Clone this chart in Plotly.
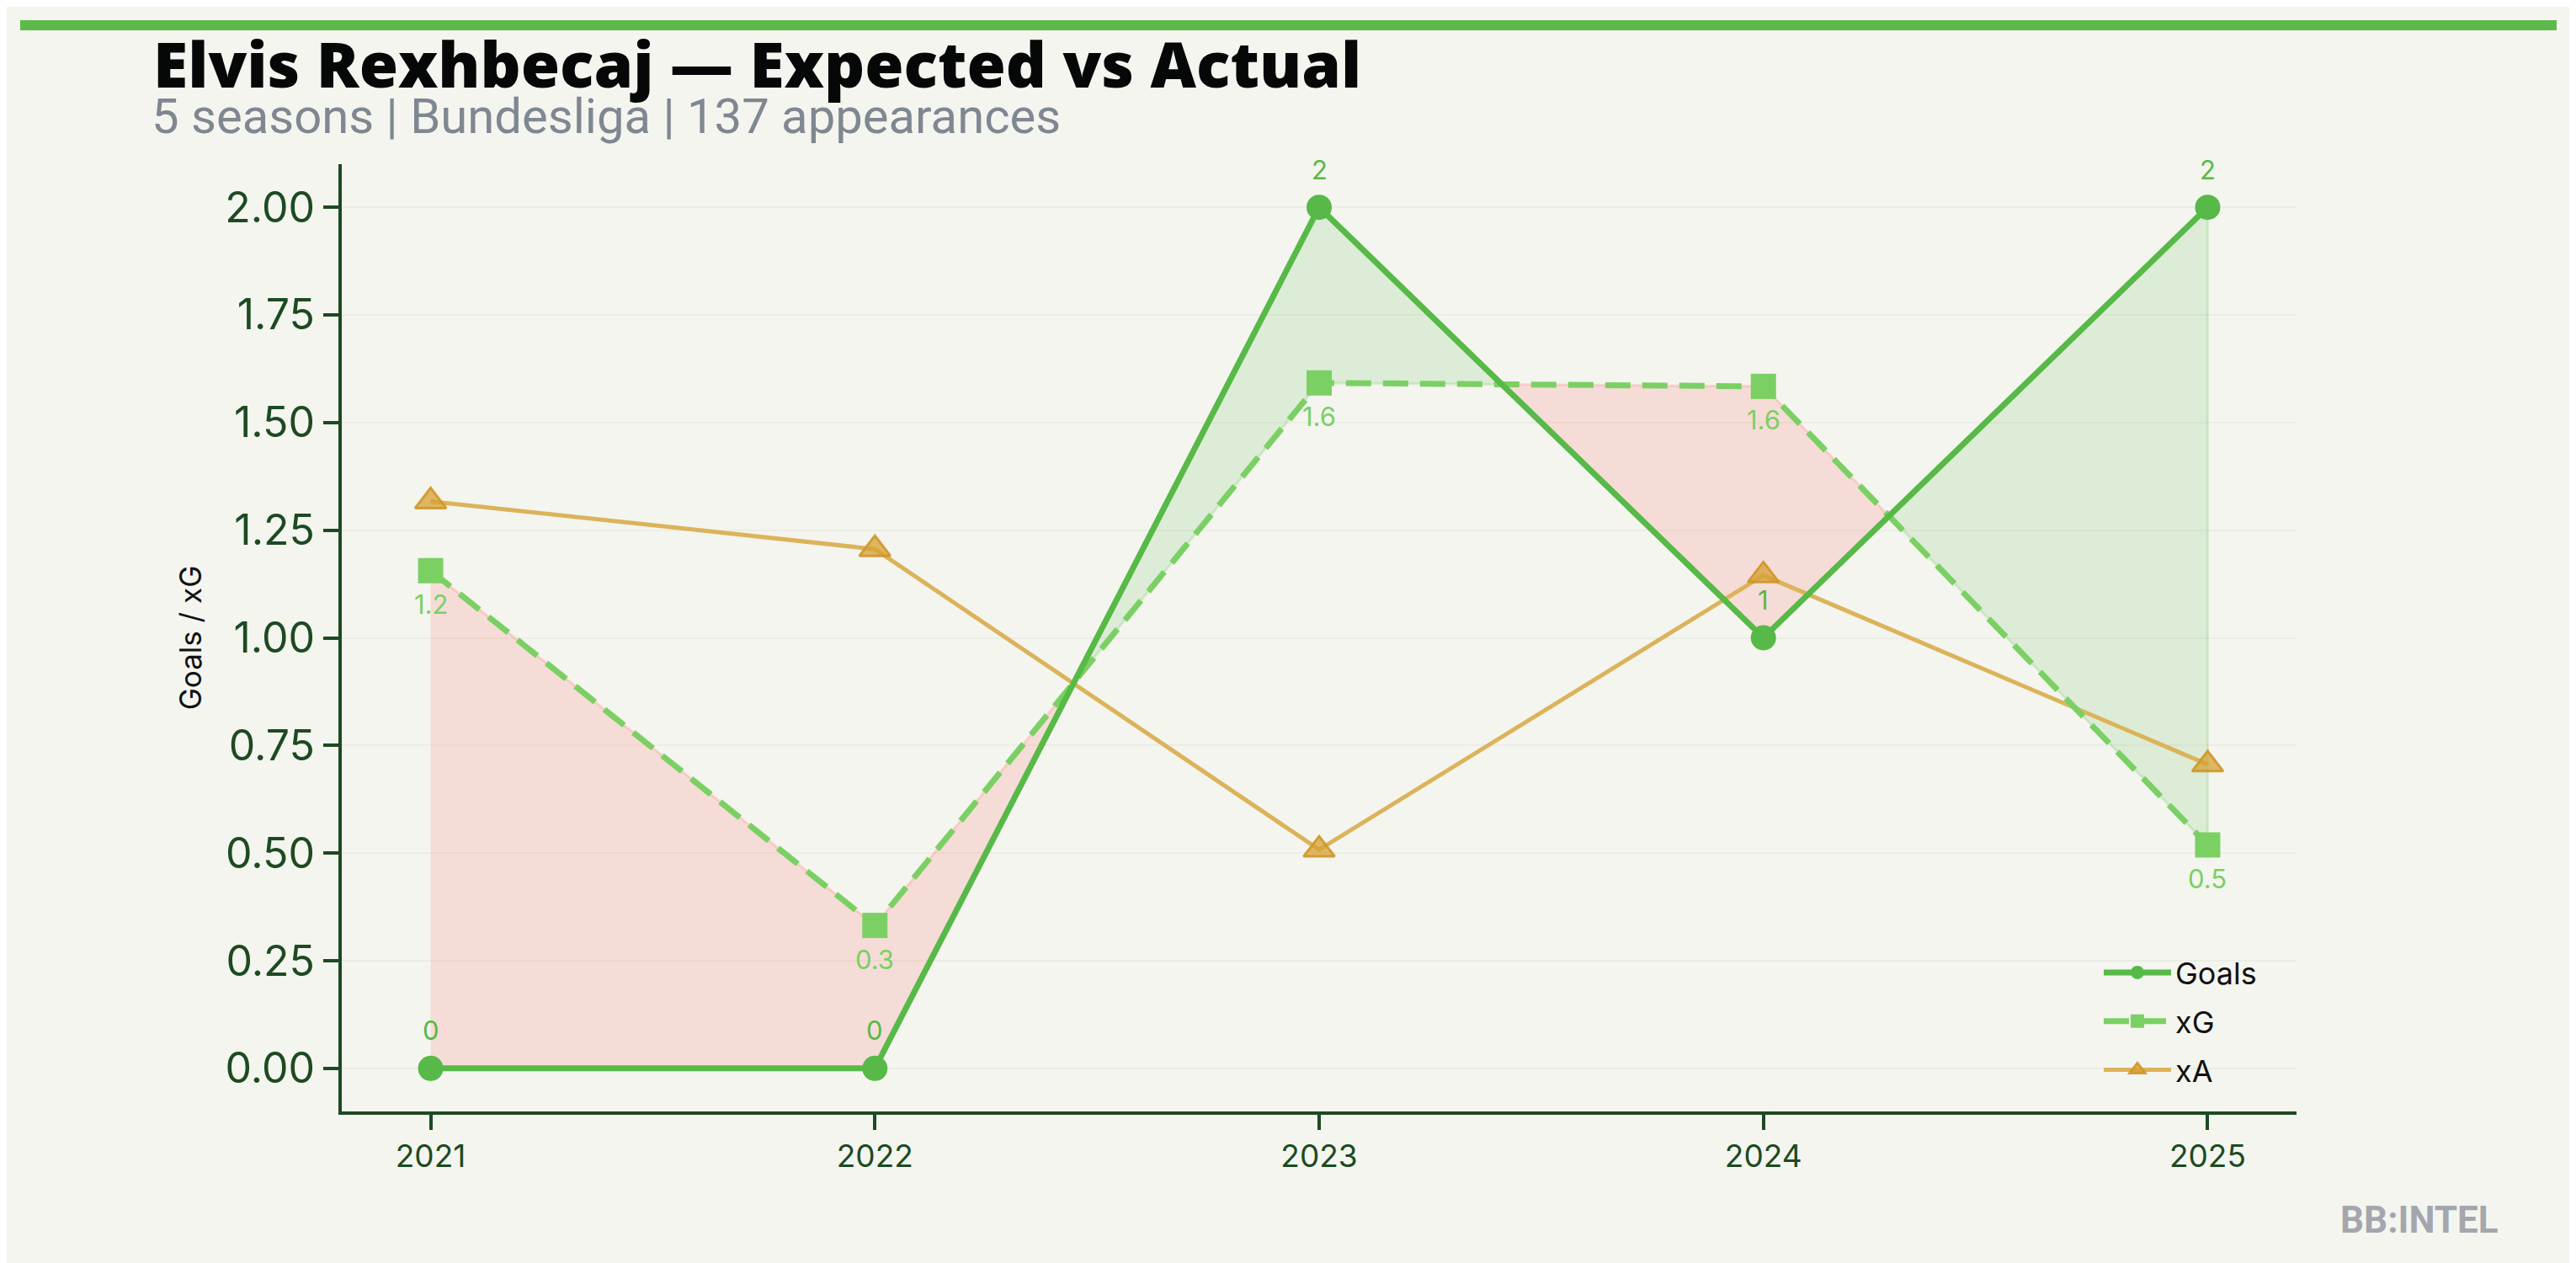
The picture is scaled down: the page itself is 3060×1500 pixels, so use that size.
import plotly.graph_objects as go

# ---------------- data ----------------
seasons = [2021, 2022, 2023, 2024, 2025]
goals = [0, 0, 2, 1, 2]
xg = [1.156, 0.332, 1.592, 1.584, 0.519]
xa = [1.317, 1.206, 0.508, 1.145, 0.706]
goal_labels = ["0", "0", "2", "1", "2"]
xg_labels = ["1.2", "0.3", "1.6", "1.6", "0.5"]
y_ticks = [0.0, 0.25, 0.5, 0.75, 1.0, 1.25, 1.5, 1.75, 2.0]
y_tick_text = ["0.00", "0.25", "0.50", "0.75", "1.00", "1.25", "1.50", "1.75", "2.00"]
title_text = "Elvis Rexhbecaj — Expected vs Actual"
subtitle_text = "5 seasons | Bundesliga | 137 appearances"

# ---------------- layout geometry (page px) ----------------
W, H = 3060, 1500
OFF = 8  # page body margin
PL, PR, PT, PB = 406, 2728, 195, 1320  # plot area on the page
L = PL - OFF
T = PT - OFF
R = W - (PR - OFF)
B = H - (PB - OFF)
PW, PH = PR - PL, PB - PT


def px_x(x):
    return (x - PL) / PW


def px_y(y):
    return (PB - y) / PH


BG = "#f4f5ef"
GREEN = "#57b947"
LGREEN = "#7bd064"
GOLD = "#dcb35a"
AXIS = "#1d4a22"

fig = go.Figure()

# ---------------- fills between goals and xG ----------------
pts = []  # (x, goals, xg)
for i in range(len(seasons)):
    pts.append((seasons[i], goals[i], xg[i]))
    if i < len(seasons) - 1:
        d0 = goals[i] - xg[i]
        d1 = goals[i + 1] - xg[i + 1]
        if d0 * d1 < 0:
            t = d0 / (d0 - d1)
            xc = seasons[i] + t * (seasons[i + 1] - seasons[i])
            yc = goals[i] + t * (goals[i + 1] - goals[i])
            pts.append((xc, yc, yc))

runs = []
cur = [pts[0]]
for p in pts[1:]:
    cur.append(p)
    if abs(p[1] - p[2]) < 1e-12:
        runs.append(cur)
        cur = [p]
if len(cur) > 1:
    runs.append(cur)

for run in runs:
    dd = [q[1] - q[2] for q in run if abs(q[1] - q[2]) > 1e-12]
    s = 1 if dd and dd[0] > 0 else -1
    xs = [q[0] for q in run] + [q[0] for q in reversed(run)]
    ys = [q[1] for q in run] + [q[2] for q in reversed(run)]
    if s > 0:
        fc, lc = "rgba(87,185,71,0.15)", "rgba(87,185,71,0.18)"
    else:
        fc, lc = "rgba(255,110,100,0.18)", "rgba(255,110,100,0.22)"
    fig.add_trace(go.Scatter(x=xs, y=ys, fill="toself", fillcolor=fc,
                             mode="lines", line=dict(color=lc, width=3),
                             hoverinfo="skip", showlegend=False))

# ---------------- series ----------------
fig.add_trace(go.Scatter(
    x=seasons, y=xa, name="xA", mode="lines+markers",
    line=dict(color=GOLD, width=5),
    marker=dict(symbol="triangle-up", size=32, color="rgba(214,160,50,0.75)",
                line=dict(color="rgba(210,150,40,0.9)", width=3)),
    legendgroup="c", legendrank=3))

fig.add_trace(go.Scatter(
    x=seasons, y=xg, name="xG", mode="lines+markers",
    line=dict(color=LGREEN, width=7, dash="30px,14px"),
    marker=dict(symbol="square", size=30, color=LGREEN),
    legendgroup="b", legendrank=2))

fig.add_trace(go.Scatter(
    x=seasons, y=goals, name="Goals", mode="lines+markers",
    line=dict(color=GREEN, width=7),
    marker=dict(symbol="circle", size=30, color=GREEN),
    legendgroup="a", legendrank=1))

annotations = []
for x, y, t in zip(seasons, goals, goal_labels):
    annotations.append(dict(x=x, y=y, text=t, showarrow=False, yshift=45,
                            font=dict(family="Inter", size=31, color=GREEN)))
for x, y, t in zip(seasons, xg, xg_labels):
    annotations.append(dict(x=x, y=y, text=t, showarrow=False, yshift=-40,
                            font=dict(family="Inter", size=31, color=LGREEN)))

# titles
annotations.append(dict(xref="paper", yref="paper", x=px_x(180), y=px_y(128),
                        xanchor="left", yanchor="bottom", showarrow=False,
                        text=title_text,
                        font=dict(family="Open Sans", size=75, color="#050807", weight=800)))
annotations.append(dict(xref="paper", yref="paper", x=px_x(178), y=px_y(174),
                        xanchor="left", yanchor="bottom", showarrow=False,
                        text=subtitle_text,
                        font=dict(family="Roboto", size=58, color="#7f8791")))
annotations.append(dict(xref="paper", yref="paper", x=px_x(2970), y=px_y(1449),
                        xanchor="right", yanchor="middle", showarrow=False,
                        text="<b>BB:INTEL</b>",
                        font=dict(family="Roboto", size=44, color="#a3a7ad")))

fig.update_layout(
    width=W, height=H,
    margin=dict(l=L, r=R, t=T, b=B, pad=0),
    paper_bgcolor=BG, plot_bgcolor=BG,
    showlegend=True,
    legend=dict(x=px_x(2494), y=px_y(1125), xanchor="left", yanchor="top",
                bgcolor="rgba(0,0,0,0)", font=dict(family="Inter", size=36, color="#111111"),
                itemwidth=80, tracegroupgap=8, traceorder="grouped"),
    annotations=annotations,
    shapes=[dict(type="rect", xref="paper", yref="paper",
                 x0=px_x(24), x1=px_x(3037), y0=px_y(36), y1=px_y(24),
                 fillcolor="#5cb94a", line=dict(width=0), layer="above")],
)

fig.update_xaxes(
    range=[2020.8, 2025.2], tickmode="array", tickvals=seasons,
    ticktext=[str(s) for s in seasons],
    showgrid=False, zeroline=False,
    showline=True, linecolor=AXIS, linewidth=4,
    ticks="outside", ticklen=18, tickwidth=3.5, tickcolor=AXIS,
    tickfont=dict(family="Inter", size=37, color=AXIS),
)
fig.update_yaxes(
    range=[-0.1, 2.1], tickmode="array", tickvals=y_ticks, ticktext=y_tick_text,
    showgrid=True, gridcolor="#ecede5", gridwidth=2, zeroline=False,
    showline=True, linecolor=AXIS, linewidth=4,
    ticks="outside", ticklen=18, tickwidth=3.5, tickcolor=AXIS,
    tickfont=dict(family="Inter", size=50, color=AXIS),
    title=dict(text="Goals / xG", font=dict(family="Inter", size=35, color="#111111"), standoff=18),
)

fig.write_html("out.html")
